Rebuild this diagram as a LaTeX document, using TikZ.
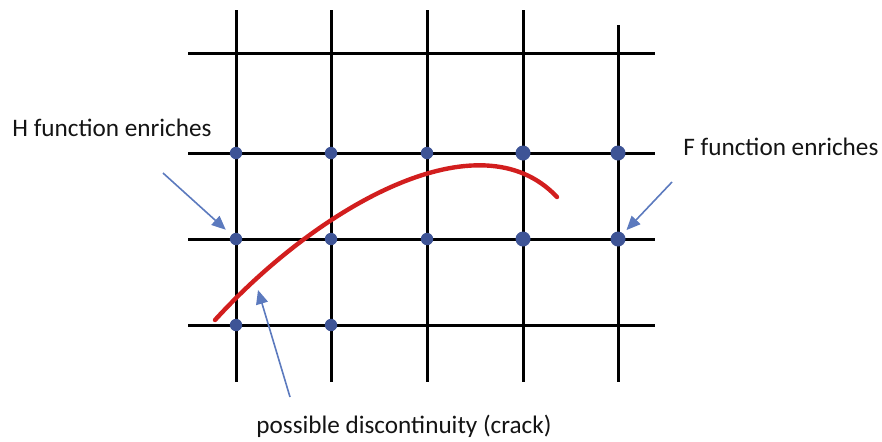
\documentclass[tikz,border=0pt]{standalone}
\usepackage{fontspec}
\setmainfont{Carlito}
\usetikzlibrary{arrows.meta,positioning,calc}
\definecolor{nodeblue}{RGB}{62,84,150}
\definecolor{arrowblue}{RGB}{92,122,190}
\definecolor{crackred}{RGB}{210,30,30}
\tikzset{
  gridline/.style={line width=1.5pt,black},
  enrdot/.style={circle,fill=nodeblue,inner sep=0pt,minimum size=#1},
  pointer/.style={arrowblue,line width=0.8pt,-{Triangle[length=7pt,width=6pt]}},
  lbl/.style={font=\fontsize{12.6}{15}\selectfont,inner sep=0pt,text=black!92},
}
\begin{document}
\begin{tikzpicture}[x=0.5pt,y=-0.5pt]
  \useasboundingbox (0,0) rectangle (882,441);
  % mesh lines
  \foreach \y in {53,153,239,325} \draw[gridline] (188,\y) -- (655,\y);
  \foreach \x/\t in {236/10,331/10,427/10,523/10,618/25} \draw[gridline] (\x,\t) -- (\x,382);
  % crack
  \draw[crackred,line width=2.2pt,line cap=round] (215,320) .. controls (320,205) and (480,115) .. (557,197);
  % enriched nodes
  \foreach \c/\x in {1/236,2/331,3/427}
    \foreach \r/\y in {2/153,3/239}
      \node[enrdot=6.2pt] (n\c\r) at (\x,\y) {};
  \node[enrdot=6.2pt] (n14) at (236,325) {};
  \node[enrdot=6.2pt] (n24) at (331,325) {};
  \foreach \c/\x in {4/523,5/618}
    \foreach \r/\y in {2/153,3/239}
      \node[enrdot=7.5pt] (n\c\r) at (\x,\y) {};
  % labels
  \node[lbl,anchor=base west] (hlabel) at (12,136) {H function enriches};
  \node[lbl,anchor=base west] (flabel) at (683,155) {F function enriches};
  \node[lbl,anchor=base west] (clabel) at (256,433) {possible discontinuity (crack)};
  % pointers
  \coordinate (htail) at (163,173);
  \coordinate (ftail) at (672,182);
  \coordinate (ctail) at (290,397);
  \coordinate (ctip) at (258,290);
  \draw[pointer,shorten >=3.6pt] (htail) -- (n13);
  \draw[pointer,shorten >=2.2pt] (ftail) -- (n53);
  \draw[pointer] (ctail) -- (ctip);
\end{tikzpicture}
\end{document}
